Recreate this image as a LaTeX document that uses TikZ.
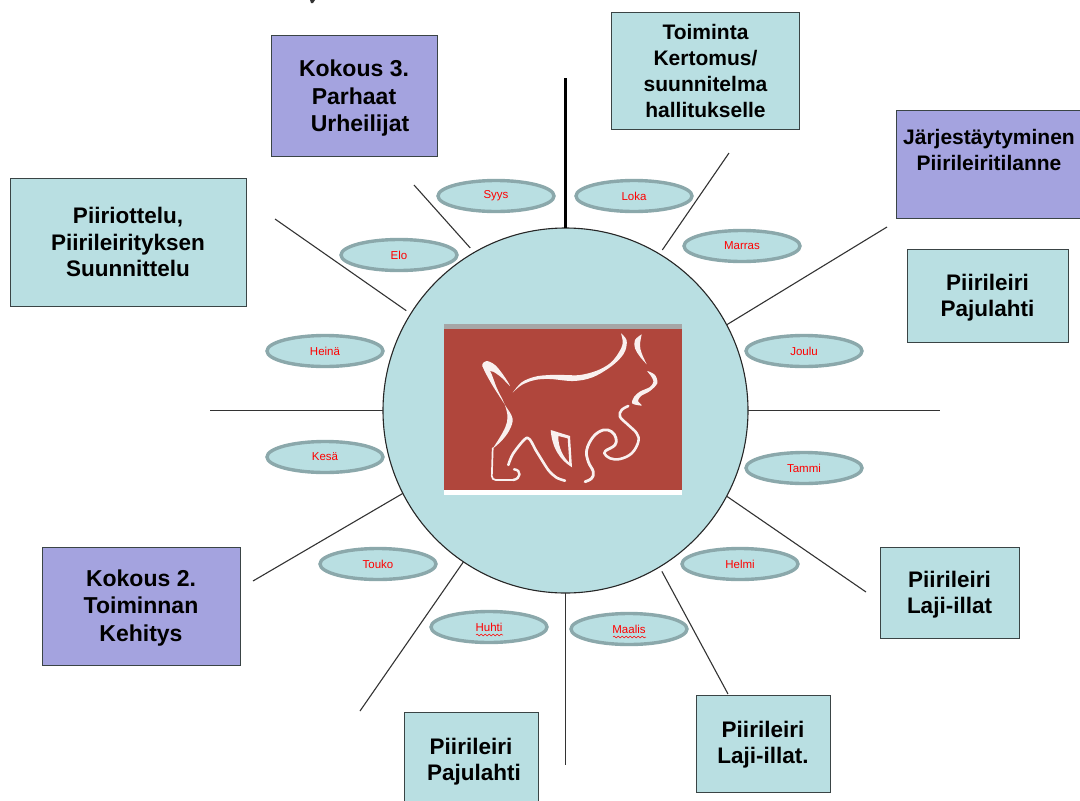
\documentclass[tikz,border=0pt]{standalone}
\usepackage{fontspec}
\setmainfont{Liberation Sans}
\usetikzlibrary{decorations.pathmorphing,shapes.geometric}
\definecolor{tealbox}{HTML}{B9DFE2}
\definecolor{purplebox}{HTML}{A4A3DF}
\definecolor{rimgrey}{HTML}{8BA8AB}
\definecolor{catred}{HTML}{B0463C}
\definecolor{edgedark}{HTML}{3A4445}
\newcommand\firstline[1]{\rule{0pt}{#1pt}}
\tikzset{
  boxbase/.style={draw=edgedark,line width=1pt,anchor=north west,inner sep=0pt,outer sep=0pt,align=center,
    font=\fontsize{22.5}{26.5}\selectfont\bfseries},
  tealnote/.style={boxbase,fill=tealbox},
  purplenote/.style={boxbase,fill=purplebox},
  bigtext/.style={font=\fontsize{23}{27.5}\selectfont\bfseries},
  tighttext/.style={font=\fontsize{21}{26}\selectfont\bfseries},
  month/.style={ellipse,draw=rimgrey,line width=3.4pt,fill=tealbox,minimum width=116pt,minimum height=31pt,
    inner sep=0pt,text=red,font=\fontsize{11.5}{13}\selectfont},
  spoke/.style={draw=black!80,line width=1.1pt},
  squiggle/.style={draw=red,line width=.5pt,decorate,decoration={snake,amplitude=.9pt,segment length=4pt}},
  catfill/.style={fill=white!92!catred},
  catline/.style={draw=white!92!catred,line cap=round,line join=round},
}
\begin{document}
\begin{tikzpicture}[x=1pt,y=-1pt]
\useasboundingbox (0,0) rectangle (1080,801);
\fill[black!80] (310,0) -- (315,0) -- (313,3) -- (311,3) -- cycle;

% hub
\node[circle,draw=black!85,line width=1.1pt,fill=tealbox,minimum size=365pt,inner sep=0pt,outer sep=0pt] (hub) at (565.5,410.5) {};

% cat logo
\fill[white] (444,324) rectangle (682,495);
\fill[black!35] (444,324) rectangle (682,329);
\fill[catred] (444,329) rectangle (682,490);
% tail
\fill[catfill] plot[smooth cycle,tension=.6] coordinates {(482.3,364.3)(486.7,361)(495,365)(503.3,375)(510,386)(501.7,377.7)(493.3,371.7)(489.5,371)(484,368.3)};
% hind leg
\fill[catfill] plot[smooth,tension=.6] coordinates {(482.3,365.7)(485.7,373.3)(493.3,386.7)(505,405)(512.5,418.3)(509.5,430)(501.7,440.7)(492.3,449)}
  -- plot[smooth,tension=.6] coordinates {(492.3,449)(499.3,438.3)(505.5,426.7)(507.5,416.7)(504.5,404)(496.8,388)(490,371)(482.3,365.7)} -- cycle;
\draw[catline,line width=1.7pt,rounded corners=4pt] (492.7,448.3) -- (491.7,480) -- (513,480);
\draw[catline,line width=2.4pt] (513,480) .. controls (521,479) and (522,470) .. (514,469.3);
% near leg
\draw[catline,line width=2.6pt] plot[smooth,tension=.45] coordinates {(508.3,465)(513.3,453.3)(527.3,437.7)(536.7,451.7)(548.3,470)(556.7,477.7)(565,480.7)};
% back and neck
\fill[catfill] plot[smooth,tension=.6] coordinates {(512.7,392.7)(521.7,382.3)(535,376.7)(550,375)(565,375)(580,375)(596.7,370.7)(610,363.3)(618.3,353.3)(622.7,343.3)(621,333.3)}
  -- plot[smooth,tension=.6] coordinates {(621,333.3)(626.5,340)(625.5,350)(620,358.5)(609,368)(592,377.5)(573.3,381)(550,379)(535,380)(521.7,385)(512.7,392.7)} -- cycle;
% ear
\fill[catfill] plot[smooth,tension=.6] coordinates {(641.7,334.3)(635,340)(635,348.3)(640,356.7)(646.7,364.3)}
  -- plot[smooth,tension=.6] coordinates {(646.7,364.3)(641.7,353.3)(640,345)(641.7,334.3)} -- cycle;
% muzzle
\fill[catfill] plot[smooth cycle,tension=.5] coordinates {(647.3,371)(655,375)(657.3,383.3)(650,391)(641,396)(638,401)(641.7,405.5)(632.3,403.5)(634,397)(640,391.5)(650,387)(653.5,381.5)(651,376)};
% chest and paw
\draw[catline,line width=2.6pt] plot[smooth,tension=.65] coordinates {(628.3,406)(621.7,410)(620,416.7)(628.3,425)(636.7,433.3)(638.3,441.7)(631.7,453.3)(620,459)(610,458.3)(604.3,453.3)(606.7,450)};
\draw[catline,line width=2.8pt] plot[smooth,tension=.65] coordinates {(606.7,450)(615,445)(616,438.3)(611.7,431.7)(603.3,430)(593.3,436.7)(586.7,450)(588.3,461.7)(593.3,471.7)(591.7,478.3)(585,481.7)};
% far leg
\fill[catfill,even odd rule] (550.7,430) -- (570,436) -- (572,467.3) .. controls (560,460) and (552,448) .. (550.7,430) -- cycle
  (558.3,436) -- (567.7,438.3) -- (569.3,462.7) .. controls (564,458) and (558,448) .. (558.3,436) -- cycle;

% boxes
\node[tealnote,tighttext,minimum width=188pt,minimum height=117pt] (toiminta) at (611.5,12.5) {Toiminta\\Kertomus/\\suunnitelma\\hallitukselle};
\node[purplenote,minimum width=184pt,minimum height=108pt] (jarj) at (896,110) {};
\node[tighttext,align=center,inner sep=0pt] (jarjt) at (989,149.5) {Järjestäytyminen\\Piirileiritilanne};
\node[tealnote,minimum width=161pt,minimum height=93pt] (pajuA) at (907,249) {\firstline{21}Piirileiri\\Pajulahti};
\node[tealnote,minimum width=139pt,minimum height=91pt] (lajiA) at (880,547) {\firstline{21}Piirileiri\\Laji-illat};
\node[tealnote,minimum width=134pt,minimum height=97pt] (lajiB) at (696,695) {\firstline{19}Piirileiri\\Laji-illat.};
\node[tealnote,minimum width=134pt,minimum height=90pt] (pajuB) at (404,712) {\firstline{26}Piirileiri\\\hspace*{6pt}Pajulahti};
\node[purplenote,bigtext,minimum width=198pt,minimum height=118pt] (kok2) at (42,547) {\firstline{20.5}Kokous 2.\\Toiminnan\\Kehitys};
\node[tealnote,minimum width=236pt,minimum height=128pt] (ottelu) at (10,178) {Piiriottelu,\\Piirileirityksen\\Suunnittelu};
\node[purplenote,bigtext,minimum width=166pt,minimum height=121pt] (kok3) at (271,35) {\firstline{22}Kokous 3.\\Parhaat\\\hspace*{12pt}Urheilijat};

% free ends of the spokes
\coordinate (eNNE) at (729,153);
\coordinate (eENE) at (887,227);
\coordinate (eE) at (940,410.5);
\coordinate (eESE) at (866,592);
\coordinate (eSSE) at (728,694);
\coordinate (eS) at (565.5,765);
\coordinate (eSSW) at (360,711);
\coordinate (eWSW) at (253,581);
\coordinate (eW) at (210,410.5);
\coordinate (eWNW) at (275,219);
\coordinate (eNNW) at (414,185);
\coordinate (eN) at (565.5,78);

\draw[spoke,shorten <=5pt] (hub.59) -- (eNNE);
\draw[spoke] (hub.28.1) -- (eENE);
\draw[spoke] (hub.0) -- (eE);
\draw[spoke] (hub.-28) -- (eESE);
\draw[spoke,shorten <=5pt] (hub.-59) -- (eSSE);
\draw[spoke] (hub.-90) -- (eS);
\draw[spoke] (hub.236.7) -- (eSSW);
\draw[spoke] (hub.207.8) -- (eWSW);
\draw[spoke] (hub.180) -- (eW);
\draw[spoke,shorten <=5.5pt] (hub.148.8) -- (eWNW);
\draw[spoke,shorten <=6pt] (hub.120) -- (eNNW);
\draw[black,line width=3.4pt] (hub.90) -- (eN);

% months
\node[month] (syys) at (496,196) {Syys};
\node[month] (loka) at (634,196) {Loka};
\node[month] (marras) at (742,246) {Marras};
\node[month] (joulu) at (804,351) {Joulu};
\node[month] (tammi) at (804,468) {Tammi};
\node[month] (helmi) at (740,564) {Helmi};
\node[month] (maalis) at (629,629) {Maalis};
\node[month] (huhti) at (489,627) {Huhti};
\node[month] (touko) at (378,564) {Touko};
\node[month] (kesa) at (325,457) {Kesä};
\node[month] (heina) at (325,351) {Heinä};
\node[month] (elo) at (399,255) {Elo};
\draw[squiggle] (476,635) -- (503,635);
\draw[squiggle] (613,637) -- (646,637);
\end{tikzpicture}
\end{document}
